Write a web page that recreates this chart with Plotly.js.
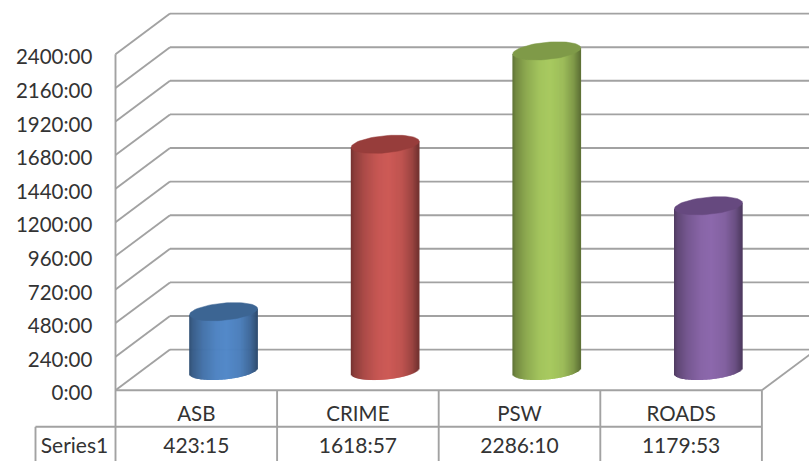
<!DOCTYPE html>
<html>
<head>
<meta charset="utf-8">
<script src="https://cdn.plot.ly/plotly-3.0.1.min.js"></script>
<style>html,body{margin:0;padding:0;background:#fff;overflow:hidden}#c{width:809px;height:461px}</style>
</head>
<body>
<div id="c"></div>
<script>
var categories = ["ASB", "CRIME", "PSW", "ROADS"];
var durationLabels = ["423:15", "1618:57", "2286:10", "1179:53"];
var seriesName = "Series1";
var yTickValues = [0, 240, 480, 720, 960, 1200, 1440, 1680, 1920, 2160, 2400];
var yTickLabels = ["0:00", "240:00", "480:00", "720:00", "960:00", "1200:00", "1440:00", "1680:00", "1920:00", "2160:00", "2400:00"];
var bodyColors = [[80, 135, 200], [205, 90, 86], [168, 202, 96], [140, 104, 172]];
var capColors = ["#3c6593", "#973d3b", "#7f9a48", "#66497f"];

// time strings to hours
var hours = durationLabels.map(function (s) { var p = s.split(":"); return +p[0] + (+p[1]) / 60; });

var W = 809, H = 461, X0 = 115.5, Y0 = 390.3;
var pxX = 161.6;                     // px per category
var pxY = 0.14;                      // px per hour
var depthX = 54.5 / pxX, depthY = 40.7 / pxY;
var font = "Lato, 'Open Sans', sans-serif";
var gray = "#a2a2a2";
var xMin = -X0 / pxX, xMax = (W - X0) / pxX;
var yMin = -(H - Y0) / pxY, yMax = Y0 / pxY;

function shade(rgb, k) { return "rgb(" + rgb.map(function (c) { return Math.round(c * k); }).join(",") + ")"; }
var stops = [[-1, .56], [-.9, .68], [-.6, .84], [-.2, .97], [.1, 1], [.5, .93], [.8, .76], [1, .55]];
function prof(t) {
  for (var i = 1; i < stops.length; i++) if (t <= stops[i][0]) {
    var a = stops[i - 1], b = stops[i];
    return a[1] + (b[1] - a[1]) * (t - a[0]) / (b[0] - a[0]);
  }
  return stops[stops.length - 1][1];
}

var traces = [];
var halfW = 34 / pxX, tilt = 3 / pxY, semi = 8.6 / pxY;
var baseV = depthY / 2 - 1 / pxY, midX = depthX / 2;

// cylinders: overlapping bar strips for the curved side, ellipse for the cap
categories.forEach(function (cat, i) {
  var cx = i + 0.5 + midX, xs = [], bases = [], hs = [], cols = [], n = 68;
  for (var k = 0; k < n; k++) {
    var t = -1 + (2 * k + 1) / n;
    var bot = baseV + tilt * t - semi * Math.sqrt(1 - t * t);
    var top = baseV + hours[i] + tilt * t;
    xs.push(cx + halfW * t); bases.push(bot); hs.push(top - bot);
    cols.push(shade(bodyColors[i], prof(t)));
  }
  traces.push({ type: "bar", x: xs, y: hs, base: bases, width: 1.7 * 2 * halfW / n, opacity: 1,
    marker: { color: cols, opacity: 1, line: { width: 0 } }, hoverinfo: "skip", showlegend: false });
  var ex = [], ey = [];
  for (var a = 0; a <= 72; a++) {
    var th = a / 72 * 2 * Math.PI;
    ex.push(cx + halfW * Math.cos(th));
    ey.push(baseV + hours[i] + tilt * Math.cos(th) + semi * Math.sin(th));
  }
  traces.push({ type: "scatter", mode: "lines", x: ex, y: ey, fill: "toself", fillcolor: capColors[i],
    line: { color: capColors[i], width: 0.5 }, hoverinfo: "skip", showlegend: false, name: cat });
});

// walls, floor and table rulings
function seg(x0, y0, x1, y1) {
  traces.push({ type: "scatter", mode: "lines", x: [x0, x1], y: [y0, y1],
    line: { color: gray, width: 1.9 }, hoverinfo: "skip", showlegend: false });
}
var yRow = -36.5 / pxY, xHead = -80 / pxX;
yTickValues.forEach(function (v) { seg(0, v, depthX, v + depthY); });
seg(0, yMin, 0, 2400);
seg(0, 0, categories.length, 0);
seg(categories.length, 0, categories.length + depthX, depthY);
seg(xHead, yRow, categories.length, yRow);
seg(xHead, yRow, xHead, yMin);
for (var j = 1; j <= categories.length; j++) seg(j, yMin, j, 0);

// data table value row
traces.push({ type: "scatter", mode: "text", showlegend: false, hoverinfo: "skip",
  x: [-41 / pxX].concat(categories.map(function (c, i) { return i + 0.5; })),
  y: [0, 0, 0, 0, 0].map(function () { return -57 / pxY; }),
  text: [seriesName].concat(durationLabels),
  textposition: "middle center",
  textfont: { family: font, size: 21, color: "#333333" } });

var shapes = yTickValues.map(function (v) {
  return { type: "line", layer: "below", xref: "x", yref: "y", x0: depthX, x1: xMax, y0: v + depthY, y1: v + depthY,
    line: { color: gray, width: 1.9 } };
});

Plotly.newPlot("c", traces, {
  width: W, height: H, margin: { l: 0, r: 0, t: 0, b: 0, pad: 0 },
  paper_bgcolor: "#ffffff", plot_bgcolor: "#ffffff", barmode: "overlay", showlegend: false, shapes: shapes,
  xaxis: { range: [xMin, xMax], anchor: "free", position: (H - Y0) / H, tickmode: "array",
    tickvals: categories.map(function (c, i) { return i + 0.5; }),
    ticktext: categories, ticks: "outside", ticklen: 5, tickcolor: "rgba(0,0,0,0)", showgrid: false, zeroline: false,
    showline: false, tickangle: 0, tickfont: { family: font, size: 20.5, color: "#333333" } },
  yaxis: { range: [yMin, yMax], anchor: "free", position: X0 / W, tickmode: "array", tickvals: yTickValues, ticktext: yTickLabels,
    ticks: "outside", ticklen: 19, tickcolor: "rgba(0,0,0,0)", showgrid: false, zeroline: false, showline: false,
    ticklabelshift: 3, tickfont: { family: font, size: 20.5, color: "#333333" } }
}, { displayModeBar: false, staticPlot: true });
</script>
</body>
</html>
